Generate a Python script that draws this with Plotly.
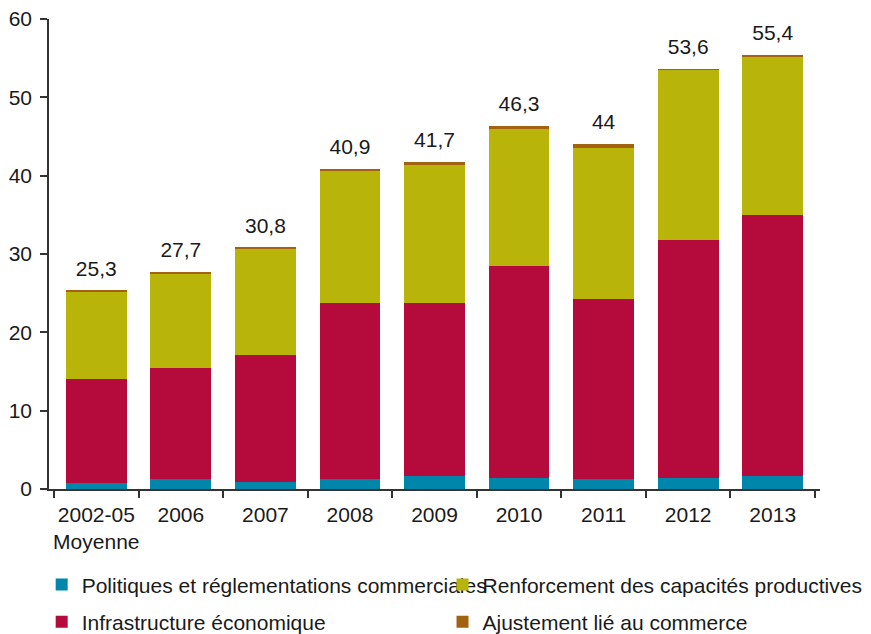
import plotly.graph_objects as go

categories = ["2002-05<br>Moyenne", "2006", "2007", "2008", "2009", "2010", "2011", "2012", "2013"]
politiques = [0.8, 1.3, 0.9, 1.3, 1.6, 1.4, 1.3, 1.4, 1.7]
infrastructure = [13.2, 14.2, 16.2, 22.5, 22.2, 27.1, 22.9, 30.4, 33.3]
renforcement = [11.2, 12.0, 13.6, 16.9, 17.6, 17.4, 19.3, 21.7, 20.2]
ajustement = [0.1, 0.2, 0.1, 0.2, 0.3, 0.4, 0.5, 0.1, 0.2]
totals = [25.3, 27.7, 30.8, 40.9, 41.7, 46.3, 44.0, 53.6, 55.4]
total_labels = ["25,3", "27,7", "30,8", "40,9", "41,7", "46,3", "44", "53,6", "55,4"]

FONT = "Liberation Sans, Arial, sans-serif"
fig = go.Figure()
series = [
    ("Politiques et réglementations commerciales", politiques, "#0086AB", "legend"),
    ("Infrastructure économique", infrastructure, "#B40A3C", "legend2"),
    ("Renforcement des capacités productives", renforcement, "#B8B40A", "legend3"),
    ("Ajustement lié au commerce", ajustement, "#A3620F", "legend4"),
]
for name, vals, col, lg in series:
    fig.add_trace(go.Bar(x=categories, y=vals, name=name, marker_color=col,
                         marker_line_width=0, legend=lg))

fig.add_trace(go.Scatter(x=categories, y=totals, mode="markers+text", text=total_labels,
                         textposition="top center", showlegend=False, hoverinfo="skip",
                         marker=dict(size=14, opacity=0),
                         textfont=dict(size=21, color="#1a1a1a", family=FONT)))

legend_common = dict(orientation="h", xanchor="left", yanchor="middle",
                     font=dict(size=21, color="#1a1a1a", family=FONT),
                     bgcolor="rgba(0,0,0,0)", itemclick=False)

fig.update_layout(
    width=871, height=634,
    margin=dict(l=49, r=51, t=19, b=145, autoexpand=False),
    barmode="stack", bargap=0.28,
    plot_bgcolor="white", paper_bgcolor="white",
    font=dict(family=FONT, size=20, color="#1a1a1a"),
    legend=dict(x=-0.0095, y=-0.204, **legend_common),
    legend2=dict(x=-0.0095, y=-0.283, **legend_common),
    legend3=dict(x=0.5104, y=-0.204, **legend_common),
    legend4=dict(x=0.5104, y=-0.283, **legend_common),
    xaxis=dict(type="category", showline=True, linecolor="#333", linewidth=1.5, ticks="outside",
               tickson="boundaries", ticklen=7, tickcolor="#333", tickwidth=1.5,
               tickangle=0, automargin=False, ticklabelstandoff=6,
               tickfont=dict(size=21, family=FONT, color="#1a1a1a"), showgrid=False),
    yaxis=dict(range=[0, 60], dtick=10, showline=True, linecolor="#333", linewidth=1.5,
               ticks="outside", ticklen=7, tickcolor="#333", tickwidth=1.5,
               showgrid=False, zeroline=False, automargin=False, ticklabelstandoff=4,
               tickfont=dict(size=21, family=FONT, color="#1a1a1a")),
    showlegend=True,
)

fig.write_html("out.html")
